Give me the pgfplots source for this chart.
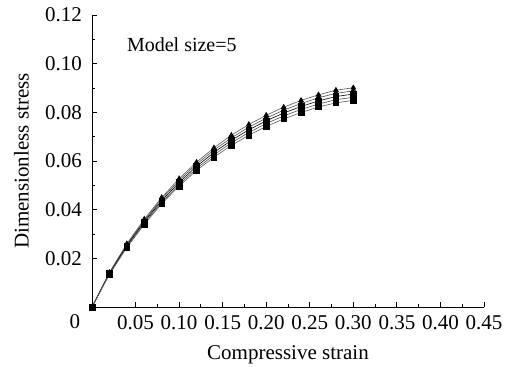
\documentclass[border=0pt]{standalone}
\usepackage{fontspec}
\setmainfont{Liberation Serif}
\usepackage{pgfplots}
\pgfplotsset{compat=1.18}
\begin{document}
\fontsize{21bp}{25bp}\selectfont
\begin{tikzpicture}
\begin{axis}[
  name=ax,
  scale only axis,
  width=392bp, height=292bp,
  xmin=0, xmax=0.45, ymin=0, ymax=0.12,
  axis lines=left,
  axis line style={-, line width=0.9pt},
  tick align=inside,
  major tick length=5bp, minor tick length=3bp,
  tick style={line width=0.9pt, black},
  xtick={0.05,0.10,0.15,0.20,0.25,0.30,0.35,0.40,0.45},
  ytick={0.02,0.04,0.06,0.08,0.10,0.12},
  minor x tick num=1, minor y tick num=1,
  /pgf/number format/assume math mode=true,
  /pgf/number format/fixed,
  /pgf/number format/fixed zerofill,
  /pgf/number format/precision=2,
  xticklabel style={yshift=-1bp},
  yticklabel style={xshift=-3bp},
  xlabel={Compressive strain},
  ylabel={Dimensionless stress},
  label style={font=\fontsize{21bp}{25bp}\selectfont},
  xlabel style={yshift=-2bp},
  ylabel style={yshift=2bp},
  clip=false,
  every axis plot/.append style={line width=0.6pt, mark size=2.8bp},
]
\addplot[gray!70!black, mark=triangle*, mark options={fill=black, draw=black}] coordinates {
(0,0) (0.02,0.0142) (0.04,0.0260) (0.06,0.0361) (0.08,0.0450) (0.10,0.0527) (0.12,0.0595) (0.14,0.0654) (0.16,0.0706) (0.18,0.0750) (0.20,0.0788) (0.22,0.0821) (0.24,0.0849) (0.26,0.0872) (0.28,0.0891) (0.30,0.0901)};
\addplot[gray!60!black, mark=diamond*, mark options={fill=black, draw=black}] coordinates {
(0,0) (0.02,0.0140) (0.04,0.0256) (0.06,0.0355) (0.08,0.0444) (0.10,0.0520) (0.12,0.0587) (0.14,0.0645) (0.16,0.0695) (0.18,0.0739) (0.20,0.0776) (0.22,0.0809) (0.24,0.0836) (0.26,0.0860) (0.28,0.0878) (0.30,0.0888)};
\addplot[black, mark=square*, mark options={fill=black, draw=black}] coordinates {
(0,0) (0.02,0.0138) (0.04,0.0252) (0.06,0.0350) (0.08,0.0437) (0.10,0.0512) (0.12,0.0578) (0.14,0.0635) (0.16,0.0685) (0.18,0.0728) (0.20,0.0765) (0.22,0.0797) (0.24,0.0824) (0.26,0.0847) (0.28,0.0865) (0.30,0.0875)};
\addplot[gray!60!black, mark=triangle*, mark options={fill=black, draw=black, rotate=180}] coordinates {
(0,0) (0.02,0.0136) (0.04,0.0248) (0.06,0.0345) (0.08,0.0430) (0.10,0.0504) (0.12,0.0569) (0.14,0.0625) (0.16,0.0675) (0.18,0.0717) (0.20,0.0754) (0.22,0.0785) (0.24,0.0812) (0.26,0.0834) (0.28,0.0852) (0.30,0.0862)};
\addplot[gray!70!black, mark=square*, mark options={fill=black, draw=black}] coordinates {
(0,0) (0.02,0.0134) (0.04,0.0244) (0.06,0.0340) (0.08,0.0424) (0.10,0.0497) (0.12,0.0561) (0.14,0.0616) (0.16,0.0664) (0.18,0.0706) (0.20,0.0742) (0.22,0.0773) (0.24,0.0799) (0.26,0.0822) (0.28,0.0839) (0.30,0.0849)};
\node[anchor=west, inner sep=0pt, font=\fontsize{20bp}{24bp}\selectfont] at (axis cs:0.040,0.1077) {Model size=5};
\node[xshift=-17bp, yshift=-15bp] at (axis cs:0,0) {0};
\end{axis}
\pgfresetboundingbox
\path (ax.south west) ++(-92bp,-60bp) rectangle ++(508bp,367bp);
\end{tikzpicture}
\end{document}
